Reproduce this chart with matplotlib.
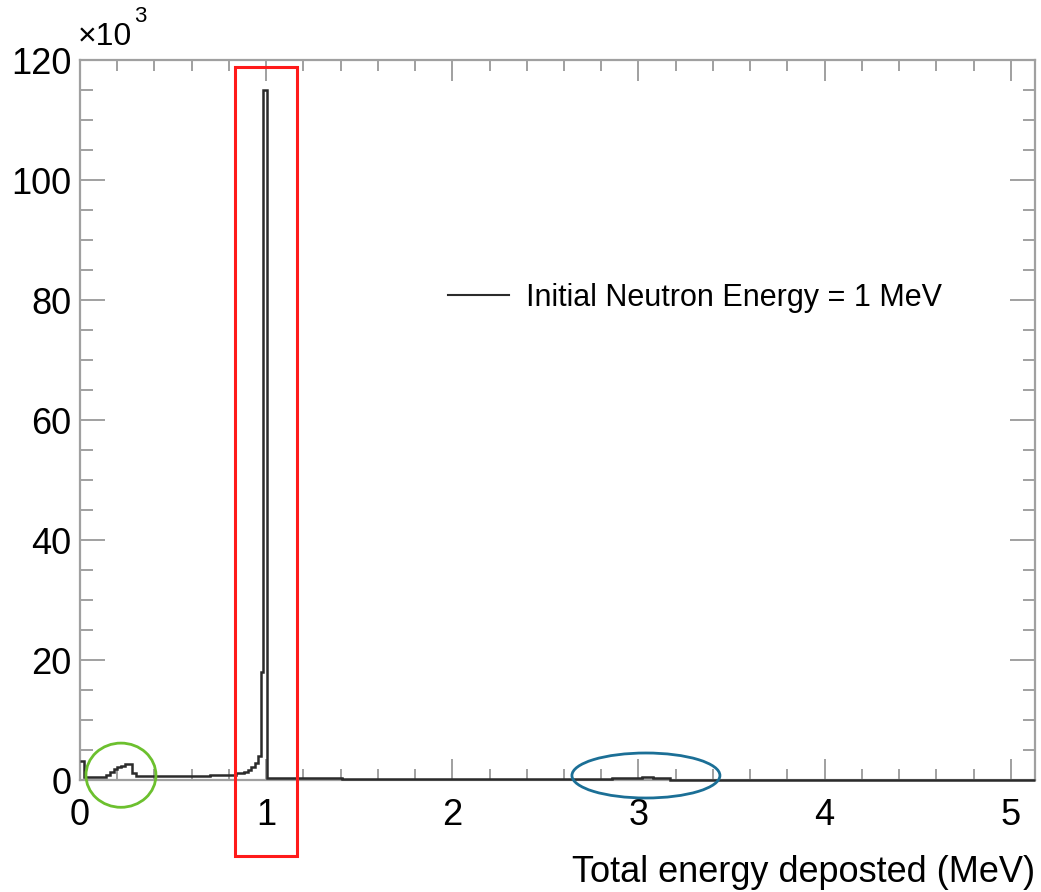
import matplotlib
matplotlib.use("Agg")
import matplotlib.pyplot as plt
from matplotlib.patches import Rectangle, Ellipse
from matplotlib.ticker import MultipleLocator

plt.rcParams['font.family'] = ['Liberation Sans', 'DejaVu Sans']

# Histogram of total deposited energy (bin edges in MeV, counts in units of 10^3)
bin_edges = [0.00, 0.02, 0.14, 0.16, 0.18, 0.20, 0.22, 0.24, 0.26, 0.28, 0.30,
             0.48, 0.58, 0.70, 0.78, 0.84, 0.88, 0.90, 0.92, 0.94, 0.955,
             0.97, 0.985, 1.005, 1.41, 2.86, 3.02, 3.08, 3.17, 5.13]
counts = [3.2, 0.5, 0.9, 1.4, 1.8, 2.1, 2.4, 2.7, 2.6, 1.1,
          0.6, 0.65, 0.7, 0.8, 0.9, 1.1, 1.3, 1.6, 2.1, 2.8,
          4.0, 18.0, 115.0, 0.35, 0.1, 0.3, 0.45, 0.3, 0.0]

legend_label = "Initial Neutron Energy = 1 MeV"
x_label = "Total energy deposted (MeV)"
x_ticks = [0, 1, 2, 3, 4, 5]
y_ticks = [0, 20, 40, 60, 80, 100, 120]

W, H = 1041, 892
fig = plt.figure(figsize=(W / 100, H / 100), dpi=100)
ax = fig.add_axes([80 / W, 1 - 780 / H, (1035 - 80) / W, (780 - 60) / H])

ax.stairs(counts, bin_edges, color='#2b2b2b', linewidth=1.8, label=legend_label,
          baseline=None, zorder=3, clip_on=False)

ax.set_xlim(0, 5.13)
ax.set_ylim(0, 120)
ax.set_xticks(x_ticks)
ax.set_yticks(y_ticks)
ax.xaxis.set_minor_locator(MultipleLocator(0.2))
ax.yaxis.set_minor_locator(MultipleLocator(5))

frame_col = '#a0a0a0'
for s in ax.spines.values():
    s.set_color(frame_col)
    s.set_linewidth(1.6)
    s.set_zorder(1)

ax.tick_params(axis='both', which='both', direction='in', top=True, right=True,
               color=frame_col, width=1.4, labelsize=26, labelcolor='black')
ax.tick_params(axis='x', which='major', length=15, pad=13)
ax.tick_params(axis='x', which='minor', length=8)
ax.tick_params(axis='y', which='major', length=18, pad=6)
ax.tick_params(axis='y', which='minor', length=9)

# exponent label of the y axis
fig.text(78 / W, 1 - 37 / H, '\u00d710', fontsize=23, ha='left', va='center')
fig.text(134 / W, 1 - 16 / H, '3', fontsize=16, ha='left', va='center')

ax.set_xlabel(x_label, fontsize=26, ha='right', x=1.0, labelpad=16)

leg = ax.legend(loc='center left', bbox_to_anchor=(448 / W, 1 - 298 / H),
                bbox_transform=fig.transFigure, frameon=False, fontsize=22,
                handlelength=2.0, handletextpad=0.55, borderpad=0, borderaxespad=0)
for line in leg.get_lines():
    line.set_linewidth(1.5)

# highlighted regions
ax.add_patch(Rectangle((0.83, -12.7), 0.333, 131.5, fill=False, edgecolor='#ff1a1a',
                       linewidth=2.2, clip_on=False, zorder=5))
ax.add_patch(Ellipse((0.22, 0.8), 0.376, 10.7, fill=False, edgecolor='#6cc02e',
                     linewidth=2.0, clip_on=False, zorder=5))
ax.add_patch(Ellipse((3.04, 0.75), 0.795, 7.5, fill=False, edgecolor='#1b6f96',
                     linewidth=2.0, clip_on=False, zorder=5))

fig.savefig('out.png', dpi=100)
